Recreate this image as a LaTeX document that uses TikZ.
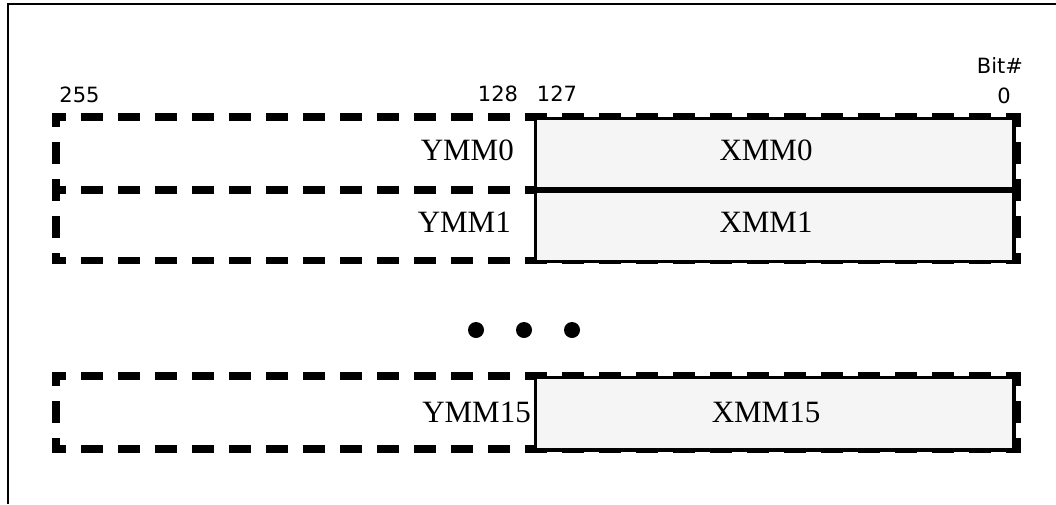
\documentclass[tikz,border=0pt]{standalone}
\usepackage{fontspec}
\setmainfont{Liberation Serif}
\newfontfamily\labelfont{DejaVu Sans}
\definecolor{xmmfill}{RGB}{245,245,245}
\tikzset{
  ymmline/.style={line width=7.5pt, line cap=rect, dash pattern=on 14.5pt off 22.5pt, dash phase=8.25pt},
  xmmbox/.style={draw=black, line width=3.5pt, fill=xmmfill},
  regtext/.style={inner sep=0pt, font=\fontsize{31}{37}\selectfont},
  bittext/.style={inner sep=0pt, anchor=base, font=\labelfont\fontsize{21}{25}\selectfont},
  framelines/.style={line width=2pt},
  dotstyle/.style={fill=black}
}
\begin{document}
\begin{tikzpicture}[x=1pt,y=-1pt]
\useasboundingbox (0,0) rectangle (1056,504);
% frame
\coordinate (fbl) at (7.7,504);
\coordinate (ftl) at (7.7,4);
\coordinate (ftr) at (1056,4);
\draw[framelines] (fbl) -- (ftl) -- (ftr);

% group 1 (YMM0, YMM1)
\coordinate (a1) at (56,117);   \coordinate (b1) at (1017,117);
\coordinate (a2) at (56,190);   \coordinate (b2) at (1017,190);
\coordinate (a3) at (56,260.5); \coordinate (b3) at (1017,260.5);
\draw[ymmline] (a1) -- (b1);
\draw[ymmline] (a2) -- (b2);
\draw[ymmline] (a3) -- (b3);
\draw[ymmline] (a1) -- (a3);
\draw[ymmline] (b1) -- (b3);

% group 2 (YMM15)
\coordinate (c1) at (56,376); \coordinate (d1) at (1017,376);
\coordinate (c2) at (56,449); \coordinate (d2) at (1017,449);
\draw[ymmline] (c1) -- (d1);
\draw[ymmline] (c2) -- (d2);
\draw[ymmline] (c1) -- (c2);
\draw[ymmline] (d1) -- (d2);

% XMM boxes
\draw[xmmbox] (535.5,118.5) rectangle (1014,189);
\draw[xmmbox] (535.5,191.5) rectangle (1014,261.5);
\draw[xmmbox] (535.5,377.5) rectangle (1014,450);

% register labels
\node[regtext, anchor=base east] (ymm0) at (514,160) {YMM0};
\node[regtext, anchor=base east] (ymm1) at (511,232) {YMM1};
\node[regtext, anchor=base east] (ymm15) at (531,422) {YMM15};
\node[regtext, anchor=base] (xmm0) at (766,160) {XMM0};
\node[regtext, anchor=base] (xmm1) at (766,232) {XMM1};
\node[regtext, anchor=base] (xmm15) at (766,422) {XMM15};

% bit numbers
\node[bittext] (b255) at (79.5,102) {255};
\node[bittext] (b128) at (498,101) {128};
\node[bittext] (b127) at (557,101) {127};
\node[bittext] (bitno) at (1000,73) {Bit\#};
\node[bittext] (b0) at (1004,103) {0};

% ellipsis dots
\fill[dotstyle] (476,330) circle (8);
\fill[dotstyle] (524,330) circle (8);
\fill[dotstyle] (572,330) circle (8);
\end{tikzpicture}
\end{document}
